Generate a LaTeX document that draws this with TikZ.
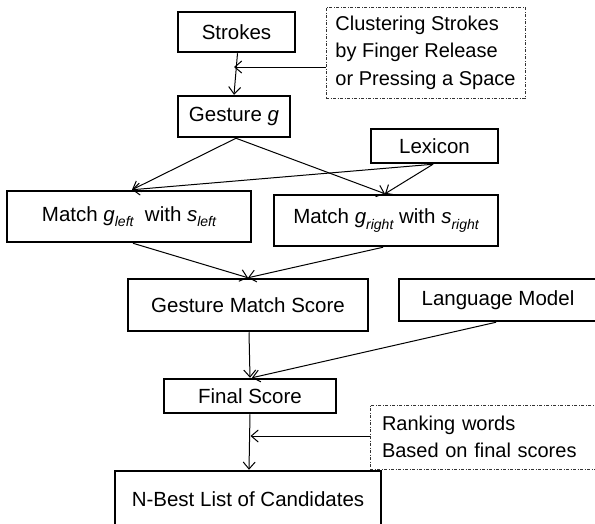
\documentclass[tikz,border=0pt]{standalone}
\usepackage{fontspec}
\setmainfont{Liberation Sans}
\usetikzlibrary{arrows.meta}
\newcommand{\lowsub}[1]{\raisebox{-5.5pt}{\fontsize{14}{14}\selectfont\itshape #1}}
\begin{document}
\begin{tikzpicture}[x=1pt,y=-1pt,
  box/.style={draw, line width=2.5pt, inner sep=0pt, font=\fontsize{20.5}{24}\selectfont},
  note/.style={draw=black!80, line width=0.8pt, dash pattern=on 3pt off 1.5pt on 1pt off 1.5pt,
    inner sep=0pt, align=left, font=\fontsize{20}{27.5}\selectfont},
  conn/.style={line width=1pt, -{Straight Barb[length=7pt,width=12pt]}}]
\useasboundingbox (0,0) rectangle (595,523);
\clip (0,0) rectangle (595,523);
% boxes
\node[box, minimum width=117pt, minimum height=40pt] (strokes) at (236.5,32) {Strokes};
\node[note, minimum width=199pt, minimum height=91pt] (clust) at (425.5,52.5)
  {Clustering Strokes\\by Finger Release\\or Pressing a Space};
\node[box, minimum width=112pt, minimum height=41pt] (gest) at (234,116.5) {Gesture {\itshape g}};
\node[box, minimum width=127pt, minimum height=34pt] (lex) at (434.5,146) {Lexicon};
\node[box, minimum width=244pt, minimum height=51pt] (ml) at (129,216.5)
  {Match {\itshape g}\lowsub{left}\ \ with {\itshape s}\lowsub{left}};
\node[box, minimum width=224pt, minimum height=51pt] (mr) at (386,220.5)
  {Match {\itshape g}\lowsub{right} with {\itshape s}\lowsub{right}};
\node[box, minimum width=240pt, minimum height=52pt] (gms) at (248,305) {Gesture Match Score};
\node[box, minimum width=198pt, minimum height=42pt] (lm) at (498,300) {Language Model};
\node[box, minimum width=172pt, minimum height=34pt] (final) at (250,396) {Final Score};
\node[note, minimum width=250pt, minimum height=64pt, text width=226pt] (rank) at (495,437)
  {Ranking words\\Based on final scores};
\node[box, minimum width=266pt, minimum height=56pt] (nbest) at (248,499) {N-Best List of Candidates};
% free ends of the note arrows
\coordinate (c1) at (234,67);
\coordinate (c2) at (250.5,436);
% connectors
\draw[conn] ([xshift=1pt]strokes.south) -- (gest.north);
\draw[conn] (clust.west |- c1) -- (c1);
\draw[conn] ([xshift=2pt]gest.south) -- ([xshift=3pt]ml.north);
\draw[conn] ([xshift=2pt]gest.south) -- ([xshift=-1pt]mr.north);
\draw[conn] ([xshift=-1.5pt]lex.south) -- ([xshift=3pt]ml.north);
\draw[conn] ([xshift=-1.5pt]lex.south) -- ([xshift=-1pt]mr.north);
\draw[conn] ([xshift=4pt]ml.south) -- (gms.north);
\draw[conn] ([xshift=-3pt]mr.south) -- (gms.north);
\draw[conn] ([xshift=1pt]gms.south) -- ([xshift=0pt]final.north);
\draw[conn] ([xshift=-2pt]lm.south) -- ([xshift=2pt]final.north);
\draw[conn] (final.south) -- ([xshift=1pt]nbest.north);
\draw[conn] (rank.west |- c2) -- (c2);
\end{tikzpicture}
\end{document}
